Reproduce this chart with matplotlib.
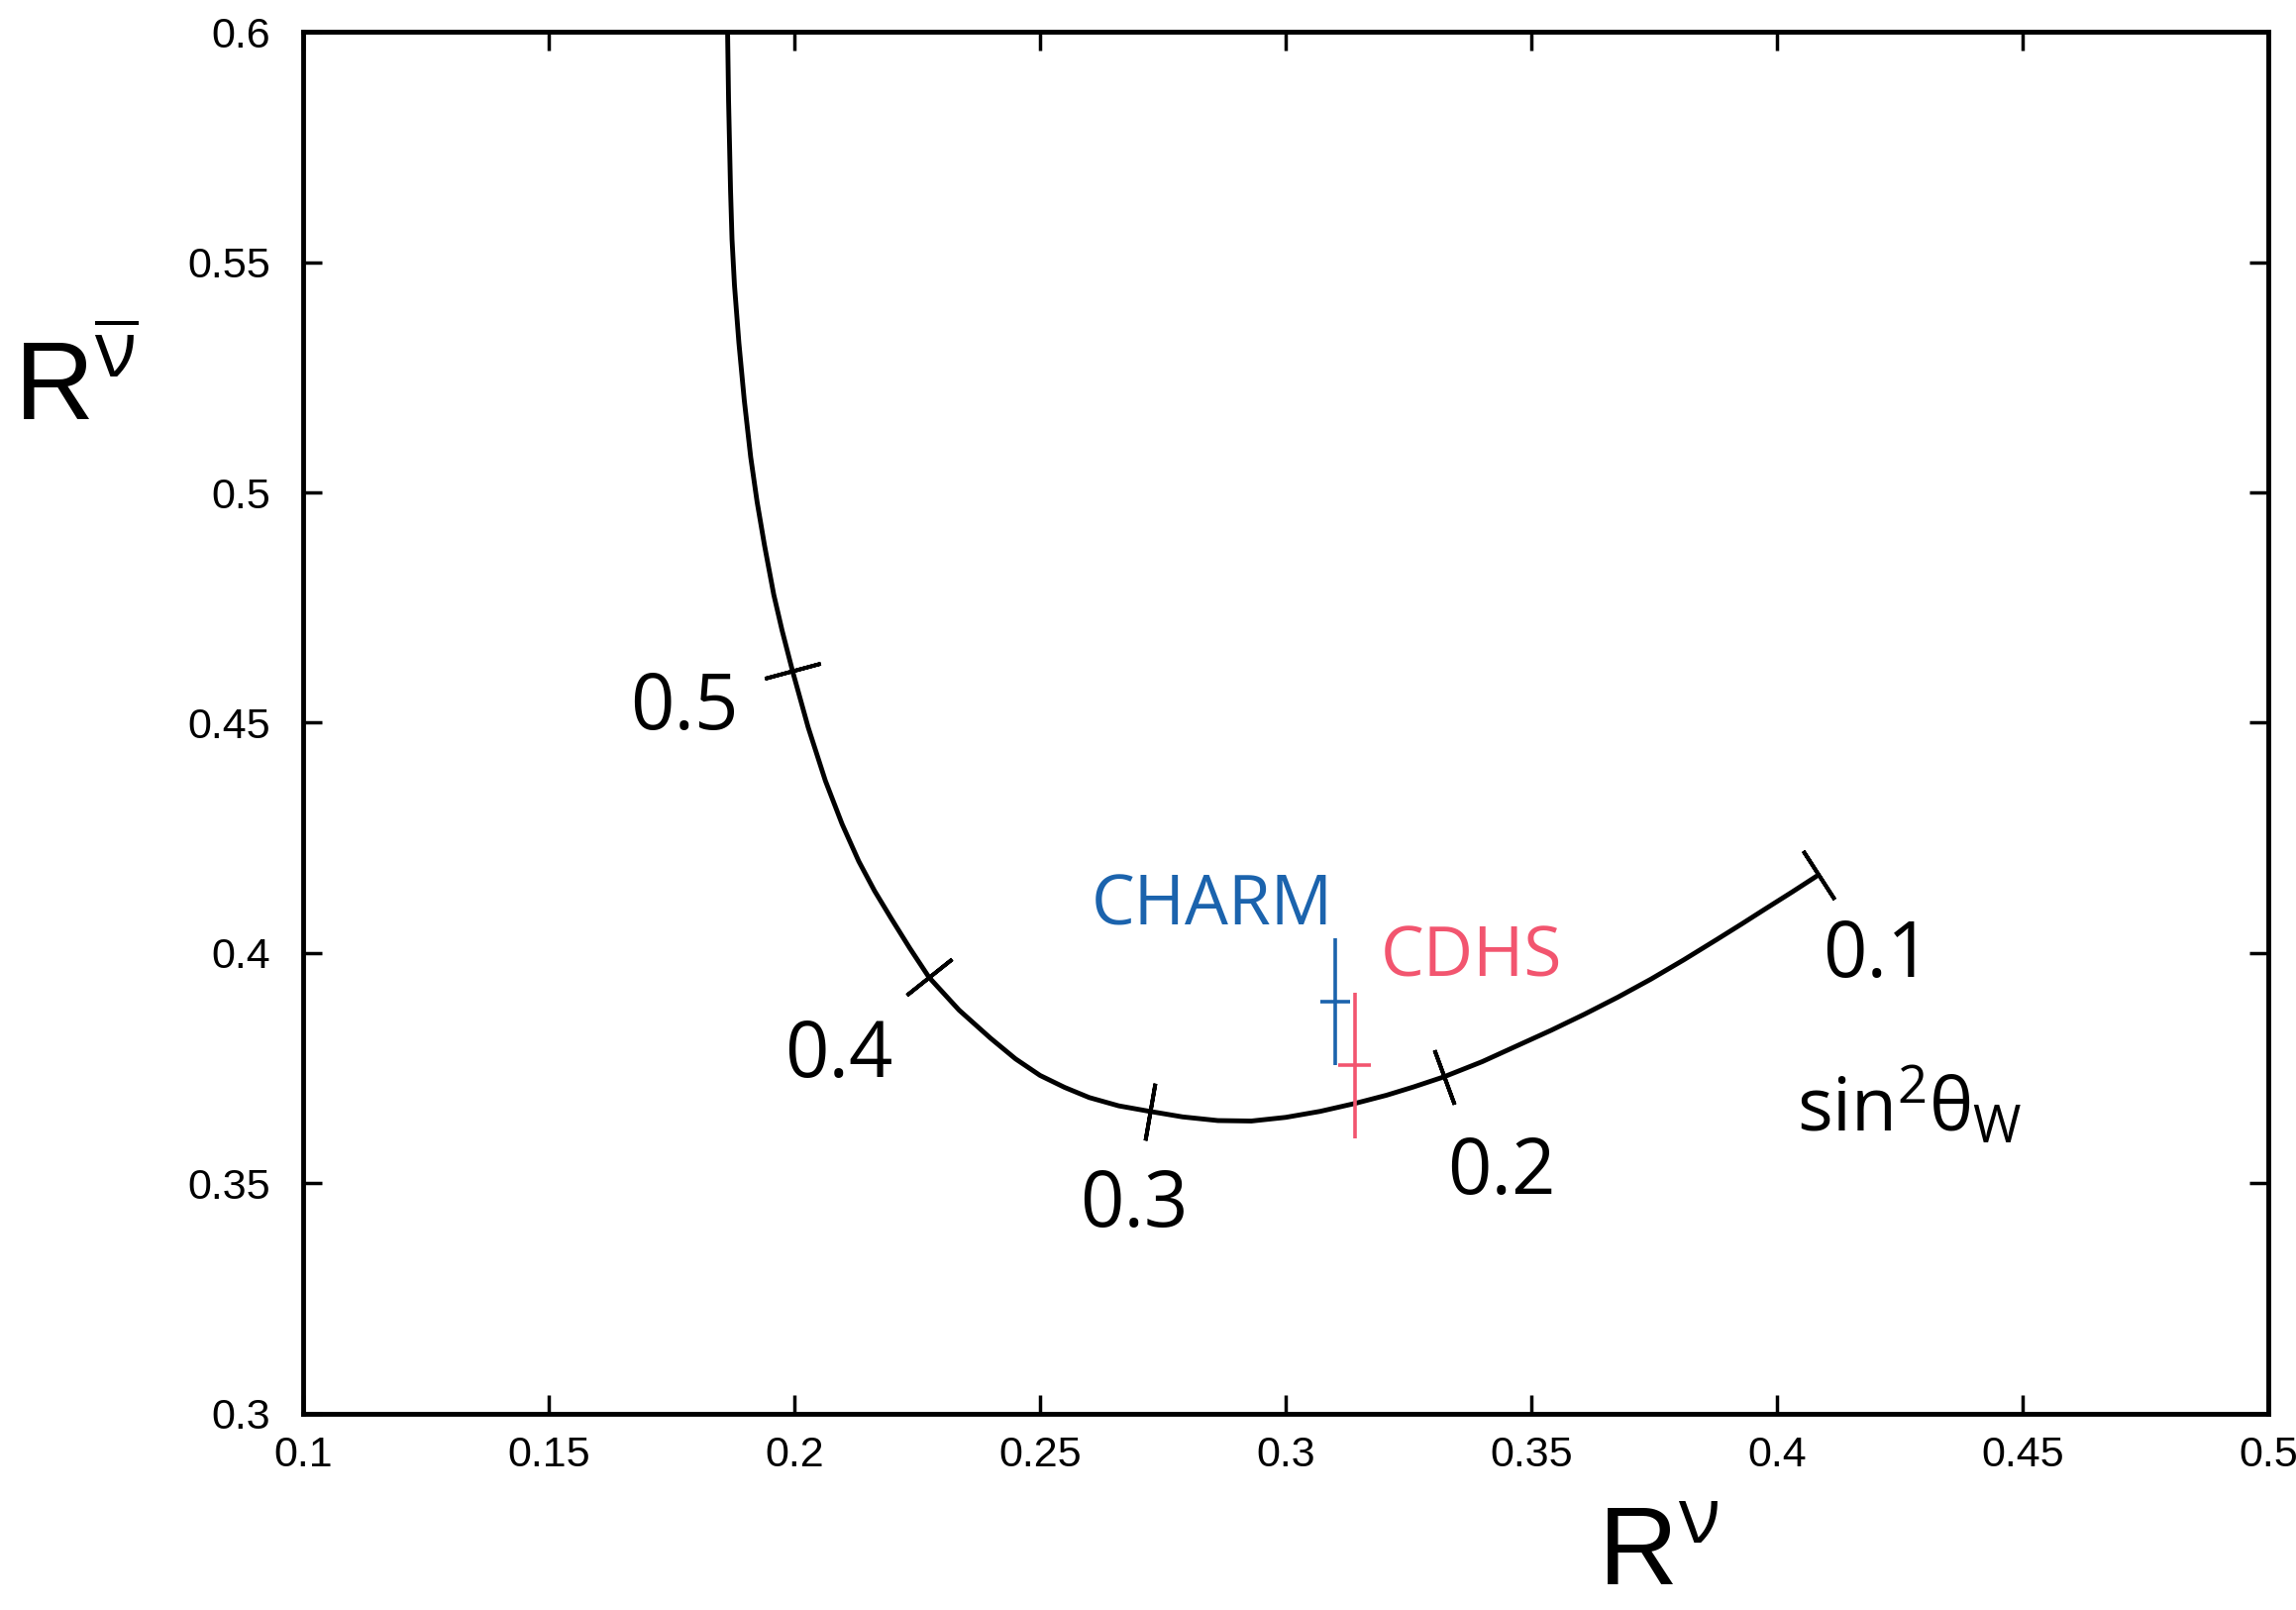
import numpy as np
import matplotlib
matplotlib.use('Agg')
import matplotlib.pyplot as plt
from matplotlib import font_manager


# Llewellyn Smith curve: (R_nu, R_nubar)
r_nu = [0.1864, 0.1866, 0.1870, 0.1873, 0.1878, 0.1887, 0.1898, 0.1911,
        0.1924, 0.1939, 0.1958, 0.1975, 0.1996, 0.2028, 0.2063, 0.2097,
        0.2131, 0.2163, 0.2197, 0.2235, 0.2274, 0.2335, 0.2399, 0.2450,
        0.2500, 0.2550, 0.2600, 0.2660, 0.2723, 0.2790, 0.2862, 0.2930,
        0.3000, 0.3070, 0.3140, 0.3205, 0.3260, 0.3322, 0.3400, 0.3474,
        0.3540, 0.3608, 0.3676, 0.3743, 0.3810, 0.3877, 0.3928, 0.3978,
        0.4030, 0.4085]
r_nubar = [0.6000, 0.5850, 0.5656, 0.5550, 0.5450, 0.5325, 0.5200, 0.5077,
           0.4980, 0.4886, 0.4778, 0.4700, 0.4613, 0.4490, 0.4374, 0.4280,
           0.4199, 0.4135, 0.4075, 0.4010, 0.3947, 0.3876, 0.3815, 0.3770,
           0.3734, 0.3708, 0.3686, 0.3668, 0.3656, 0.3644, 0.3636, 0.3635,
           0.3643, 0.3656, 0.3673, 0.3691, 0.3709, 0.3731, 0.3764, 0.3800,
           0.3832, 0.3867, 0.3904, 0.3943, 0.3985, 0.4029, 0.4063, 0.4097,
           0.4132, 0.4170]

# sin^2 theta_W marks on the curve
sw_labels = ['0.5', '0.4', '0.3', '0.2', '0.1']
sw_r_nu = [0.1996, 0.2274, 0.2723, 0.3322, 0.4085]
sw_r_nubar = [0.4613, 0.3947, 0.3656, 0.3731, 0.4170]
sw_text_x = [0.1776, 0.2091, 0.2692, 0.3440, 0.4204]
sw_text_y = [0.4485, 0.3731, 0.3405, 0.3477, 0.3947]

# measurements
experiments = ['CHARM', 'CDHS']
exp_r_nu = [0.3100, 0.3140]
exp_r_nu_err = [0.0030, 0.0034]
exp_r_nubar = [0.3894, 0.3756]
exp_r_nubar_err = [0.0138, 0.0158]
exp_colors = ['#1b63ad', '#f2556f']
exp_text_x = [0.2850, 0.3378]
exp_text_y = [0.4062, 0.3950]

xticks = [0.1, 0.15, 0.2, 0.25, 0.3, 0.35, 0.4, 0.45, 0.5]
xticklabels = ['0.1', '0.15', '0.2', '0.25', '0.3', '0.35', '0.4', '0.45', '0.5']
yticks = [0.3, 0.35, 0.4, 0.45, 0.5, 0.55, 0.6]
yticklabels = ['0.3', '0.35', '0.4', '0.45', '0.5', '0.55', '0.6']


installed = {f.name for f in font_manager.fontManager.ttflist}
if 'Liberation Sans Narrow' in installed:
    axis_font = ['Liberation Sans Narrow', 'DejaVu Sans']
    tick_size, label_size = 37, 84
else:
    axis_font = ['Liberation Sans', 'DejaVu Sans']
    tick_size, label_size = 31, 80
note_font = ['Open Sans', 'DejaVu Sans']

plt.rcParams['mathtext.fontset'] = 'custom'
plt.rcParams['mathtext.rm'] = 'Open Sans'
plt.rcParams['mathtext.it'] = 'Open Sans'
plt.rcParams['mathtext.sf'] = 'Open Sans'
plt.rcParams['mathtext.bf'] = 'Open Sans:bold'

fig = plt.figure(figsize=(23.18, 16.25), dpi=100)
ax = fig.add_axes([0.132, 0.1221, 0.856, 0.858])
ax.set_xlim(0.1, 0.5)
ax.set_ylim(0.3, 0.6)

for side in ax.spines.values():
    side.set_linewidth(3.5)

ax.set_xticks(xticks)
ax.set_xticklabels(xticklabels, family=axis_font, fontsize=tick_size)
ax.set_yticks(yticks)
ax.set_yticklabels(yticklabels, family=axis_font, fontsize=tick_size)
ax.tick_params(direction='in', length=14, width=2.5, top=True, right=True)
ax.tick_params(axis='x', pad=16)
ax.tick_params(axis='y', pad=24)

# the curve
ax.plot(r_nu, r_nubar, color='black', lw=3.5, solid_capstyle='butt',
        solid_joinstyle='round', clip_on=False)

# short cross marks perpendicular to the curve
pts = ax.transData.transform(np.column_stack([r_nu, r_nubar]))
for x, y in zip(sw_r_nu, sw_r_nubar):
    p = ax.transData.transform((x, y))
    i = int(np.argmin(np.hypot(*(pts - p).T)))
    i0, i1 = max(i - 1, 0), min(i + 1, len(pts) - 1)
    dx, dy = pts[i1] - pts[i0]
    ang = np.degrees(np.arctan2(dy, dx))
    ax.plot([x], [y], ls='none', marker=(2, 2, ang), ms=42, mew=2.8,
            color='black')

for lab, x, y in zip(sw_labels, sw_text_x, sw_text_y):
    ax.text(x, y, lab, ha='center', va='baseline', fontsize=56,
            family=note_font)

ax.text(0.4269, 0.3613, r'sin$^2\theta_W$', ha='center', va='baseline',
        fontsize=54, family=note_font)

# data points
for i in range(len(experiments)):
    ax.errorbar(exp_r_nu[i], exp_r_nubar[i], xerr=exp_r_nu_err[i],
                yerr=exp_r_nubar_err[i], fmt='none', ecolor=exp_colors[i],
                elinewidth=2.6, capsize=0)
    ax.text(exp_text_x[i], exp_text_y[i], experiments[i], ha='center',
            va='baseline', fontsize=50, color=exp_colors[i], family=note_font)

# axis labels
fig.text(0.722, 0.016, r'R$^{\nu}$', ha='center', va='baseline',
         fontsize=label_size, family=axis_font)
fig.text(0.033, 0.739, r'R$^{\overline{\nu}}$', ha='center', va='baseline',
         fontsize=label_size, family=axis_font)

fig.savefig('out.png', dpi=100, facecolor='white')
